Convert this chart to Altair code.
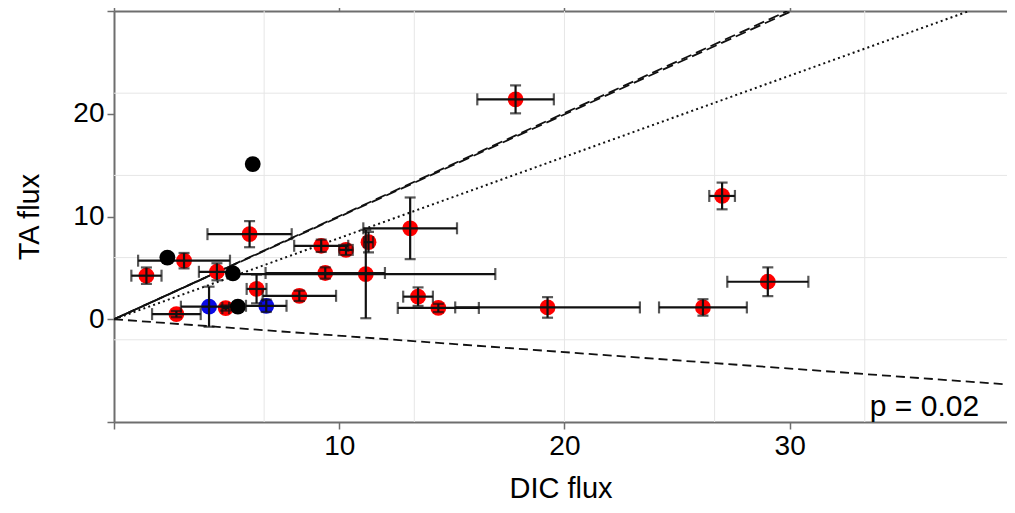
import altair as alt
import pandas as pd

# ---------------- data ----------------
red_x = [1.44, 2.77, 3.11, 4.57, 4.96, 6.02, 6.33, 8.23, 9.20, 9.38, 10.30, 11.18, 11.30,
         13.15, 13.50, 14.40, 17.83, 19.25, 26.15, 27.00, 29.03]
red_y = [4.24, 0.50, 5.70, 4.62, 1.09, 8.28, 2.95, 2.28, 7.15, 4.50, 6.75, 4.40, 7.50,
         8.85, 2.20, 1.10, 21.40, 1.15, 1.15, 12.00, 3.65]
red_xerr = [0.67, 1.08, 2.04, 0.80, 0.15, 1.87, 0.44, 1.63, 1.20, 2.65, 0.30, 5.75, 0.20,
            2.08, 0.66, 1.80, 1.70, 4.10, 1.95, 0.57, 1.80]
red_yerr = [0.80, 0.30, 0.75, 0.83, 0.25, 1.27, 1.40, 0.50, 0.60, 0.55, 0.50, 4.30, 1.00,
            3.00, 0.90, 0.40, 1.36, 1.00, 0.80, 1.30, 1.40]

blue_x = [4.22, 6.76]
blue_y = [1.22, 1.31]
blue_xerr = [1.25, 0.90]
blue_yerr = [1.95, 0.60]

black_x = [2.37, 5.28, 5.50, 6.16]
black_y = [6.00, 4.46, 1.22, 15.10]

# reference lines: start and end points
line_names = ["solid", "dashA", "dashB", "dotted", "down"]
line_x0 = [0, 0, 0, 0, 0]
line_y0 = [0, 0, 0, 0, 0]
line_x1 = [5.5, 29.9, 30.1, 37.97, 40.0]
line_y1 = [5.5, 30.0, 30.0, 30.0, -6.4]

grid_x = [20 / 3, 40 / 3, 20, 80 / 3, 100 / 3]
grid_y = [-2, 6, 14, 22]

x_ticks = [0, 10, 20, 30]
y_ticks = [-10, 0, 10, 20, 30]

annotation = "p = 0.02"
annot_x, annot_y = 33.56, -9.4

# ---------------- tables ----------------
red = pd.DataFrame({"x": red_x, "y": red_y})
blue = pd.DataFrame({"x": blue_x, "y": blue_y})
black = pd.DataFrame({"x": black_x, "y": black_y})

hbars, vbars, hcaps, vcaps = [], [], [], []
for xs_, ys_, xe_, ye_ in [(red_x, red_y, red_xerr, red_yerr),
                           (blue_x, blue_y, blue_xerr, blue_yerr)]:
    for x, y, xe, ye in zip(xs_, ys_, xe_, ye_):
        hbars.append({"lo": x - xe, "hi": x + xe, "y": y})
        hcaps += [{"x": x - xe, "y": y}, {"x": x + xe, "y": y}]
        vbars.append({"x": x, "lo": y - ye, "hi": y + ye})
        vcaps += [{"x": x, "y": y - ye}, {"x": x, "y": y + ye}]
hbars, vbars = pd.DataFrame(hbars), pd.DataFrame(vbars)
hcaps, vcaps = pd.DataFrame(hcaps), pd.DataFrame(vcaps)

lines = pd.DataFrame({"name": line_names, "x0": line_x0, "y0": line_y0,
                      "x1": line_x1, "y1": line_y1})

# visible x range ends at the window edge
xs = alt.Scale(domain=[0, 39.65], nice=False, zero=False)
ys = alt.Scale(domain=[-10, 30], nice=False, zero=False)
AX = "#6e6e6e"
EB = "#111111"
FONT = "Liberation Sans"


def X(field, **kw):
    return alt.X(field, type="quantitative", scale=xs, axis=kw.pop("axis", None), **kw)


def Y(field, **kw):
    return alt.Y(field, type="quantitative", scale=ys, axis=kw.pop("axis", None), **kw)


# grid
gx = alt.Chart(pd.DataFrame({"g": grid_x})).mark_rule(color="#e6e6e6", strokeWidth=1).encode(
    x=X("g", axis=alt.Axis(orient="top", values=x_ticks, labels=False, title=None,
                           domainColor=AX, domainWidth=2, tickColor=AX, tickSize=7,
                           tickWidth=1.5, grid=False)))
gy = alt.Chart(pd.DataFrame({"g": grid_y})).mark_rule(color="#e6e6e6", strokeWidth=1).encode(
    y=Y("g"))

# reference lines
styles = {"solid": [1, 0], "dashA": [11, 5], "dashB": [11, 5], "dotted": [2, 3.2], "down": [9, 5]}
offsets = {"solid": 0, "dashA": 0, "dashB": 5, "dotted": 0, "down": 0}
widths = {"solid": 1.8, "dashA": 1.8, "dashB": 1.8, "dotted": 2.0, "down": 1.8}
line_layers = []
for nm in line_names:
    d = lines[lines["name"] == nm]
    line_layers.append(
        alt.Chart(d).mark_rule(color="#111", strokeWidth=widths[nm], clip=True,
                               strokeDash=styles[nm], strokeDashOffset=offsets[nm]).encode(
            x=X("x0"), y=Y("y0"), x2="x1", y2="y1"))

size = 250
red_pts = alt.Chart(red).mark_circle(color="#ff0000", opacity=1, size=size).encode(
    x=X("x", axis=alt.Axis(orient="bottom", values=x_ticks, title="DIC flux",
                           labelExpr="datum.value == 0 ? '' : datum.label")),
    y=Y("y", axis=alt.Axis(orient="left", values=y_ticks, title="TA flux",
                           labelExpr="(datum.value == -10 || datum.value == 30) ? '' : datum.label")))
blue_pts = alt.Chart(blue).mark_circle(color="#0a0ae6", opacity=1, size=size).encode(
    x=X("x"), y=Y("y"))
black_pts = alt.Chart(black).mark_circle(color="#000000", opacity=1, size=size).encode(
    x=X("x"), y=Y("y"))

hb = alt.Chart(hbars).mark_rule(color=EB, strokeWidth=2.2).encode(x=X("lo"), x2="hi", y=Y("y"))
vb = alt.Chart(vbars).mark_rule(color=EB, strokeWidth=2.2).encode(y=Y("lo"), y2="hi", x=X("x"))
hc = alt.Chart(hcaps).mark_tick(color=EB, orient="vertical", size=12, thickness=2.2).encode(
    x=X("x"), y=Y("y"))
vc = alt.Chart(vcaps).mark_tick(color=EB, orient="horizontal", size=11, thickness=2.2).encode(
    x=X("x"), y=Y("y"))

txt = alt.Chart(pd.DataFrame({"x": [annot_x], "y": [annot_y], "t": [annotation]})).mark_text(
    align="left", baseline="alphabetic", fontSize=30, font=FONT, color="#000").encode(
    x=X("x"), y=Y("y"), text="t:N")

chart = alt.layer(
    gx, gy, *line_layers, red_pts, blue_pts, hb, vb, hc, vc, black_pts, txt
).resolve_axis(x="independent", y="independent").properties(
    width=893, height=411,
    autosize=alt.AutoSizeParams(type="none"),
    padding={"left": 106, "top": 3, "right": 0, "bottom": 83},
).configure_view(stroke=None).configure_axis(
    domainColor=AX, domainWidth=2, tickColor=AX, tickSize=7, tickWidth=1.5,
    labelFont=FONT, labelFontSize=28, labelColor="#000", labelPadding=3,
    titleFont=FONT, titleFontSize=29, titleFontWeight="normal", titleColor="#000",
    grid=False,
).configure_axisBottom(titlePadding=14).configure_axisLeft(titlePadding=28)

chart.save("out.html", embed_options={"renderer": "svg", "actions": False})
